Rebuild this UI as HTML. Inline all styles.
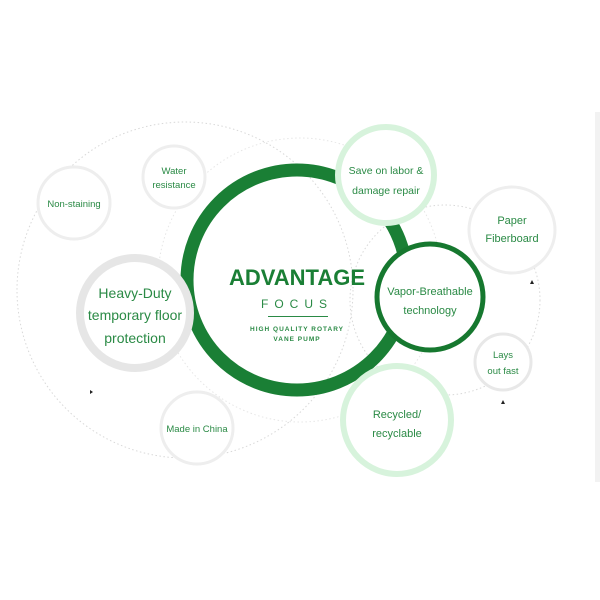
<!DOCTYPE html>
<html><head><meta charset="utf-8"><style>
html,body{margin:0;padding:0;background:#fff;}
svg{display:block;}
text{font-family:"Liberation Sans",sans-serif;fill:#2a8a45;text-anchor:middle;}
</style></head><body>
<svg width="600" height="600" viewBox="0 0 600 600" xmlns="http://www.w3.org/2000/svg">
<rect x="595" y="112" width="5" height="370" fill="#f2f2f2"/>
<circle cx="185" cy="290" r="168" fill="none" stroke="#d8d8d8" stroke-width="1" stroke-dasharray="1.5 2.5"/>
<circle cx="445" cy="300" r="95" fill="none" stroke="#d8d8d8" stroke-width="1" stroke-dasharray="1.5 2.5"/>
<circle cx="300" cy="280" r="142" fill="none" stroke="#e6e6e6" stroke-width="1" stroke-dasharray="1.5 2.5"/>
<circle cx="297" cy="280" r="110" fill="none" stroke="#1a7f35" stroke-width="13"/>
<circle cx="135" cy="313" r="55" fill="#fff" stroke="#e6e6e6" stroke-width="8"/>
<circle cx="74" cy="203" r="36" fill="#fff" stroke="#eeeeee" stroke-width="3"/>
<circle cx="174" cy="177" r="31" fill="#fff" stroke="#eeeeee" stroke-width="3"/>
<circle cx="386" cy="175" r="48" fill="#fff" stroke="#d7f3dc" stroke-width="6"/>
<circle cx="512" cy="230" r="43" fill="#fff" stroke="#eeeeee" stroke-width="3"/>
<circle cx="430" cy="297" r="53" fill="#fff" stroke="#16782f" stroke-width="5"/>
<circle cx="503" cy="362" r="28" fill="#fff" stroke="#e8e8e8" stroke-width="3"/>
<circle cx="397" cy="420" r="54" fill="#fff" stroke="#d7f3dc" stroke-width="6"/>
<circle cx="197" cy="428" r="36" fill="#fff" stroke="#eeeeee" stroke-width="3"/>
<polygon points="90,390 93,392 90,394" fill="#222"/>
<polygon points="530,284 532,280 534,284" fill="#222"/>
<polygon points="501,404 503,400 505,404" fill="#222"/>
<text x="297" y="285" font-size="22" font-weight="bold" style="fill:#1a7f35">ADVANTAGE</text>
<text x="297" y="308" font-size="12" letter-spacing="6">FOCUS</text>
<rect x="268" y="316" width="60" height="1" fill="#2a8a45"/>
<text x="297" y="331" font-size="6.5" font-weight="bold" letter-spacing="1">HIGH QUALITY ROTARY</text>
<text x="297" y="341" font-size="6.5" font-weight="bold" letter-spacing="1">VANE PUMP</text>
<text x="135" y="298" font-size="14">Heavy-Duty</text>
<text x="135" y="320" font-size="14">temporary floor</text>
<text x="135" y="343" font-size="14">protection</text>
<text x="74" y="207" font-size="9.5">Non-staining</text>
<text x="174" y="174" font-size="9.5">Water</text>
<text x="174" y="188" font-size="9.5">resistance</text>
<text x="386" y="174" font-size="10.5">Save on labor &amp;</text>
<text x="386" y="194" font-size="10.5">damage repair</text>
<text x="512" y="224" font-size="11">Paper</text>
<text x="512" y="242" font-size="11">Fiberboard</text>
<text x="430" y="295" font-size="11">Vapor-Breathable</text>
<text x="430" y="314" font-size="11">technology</text>
<text x="503" y="358" font-size="9.5">Lays</text>
<text x="503" y="374" font-size="9.5">out fast</text>
<text x="397" y="418" font-size="11">Recycled/</text>
<text x="397" y="437" font-size="11">recyclable</text>
<text x="197" y="432" font-size="9.5">Made in China</text>
</svg>
</body></html>
